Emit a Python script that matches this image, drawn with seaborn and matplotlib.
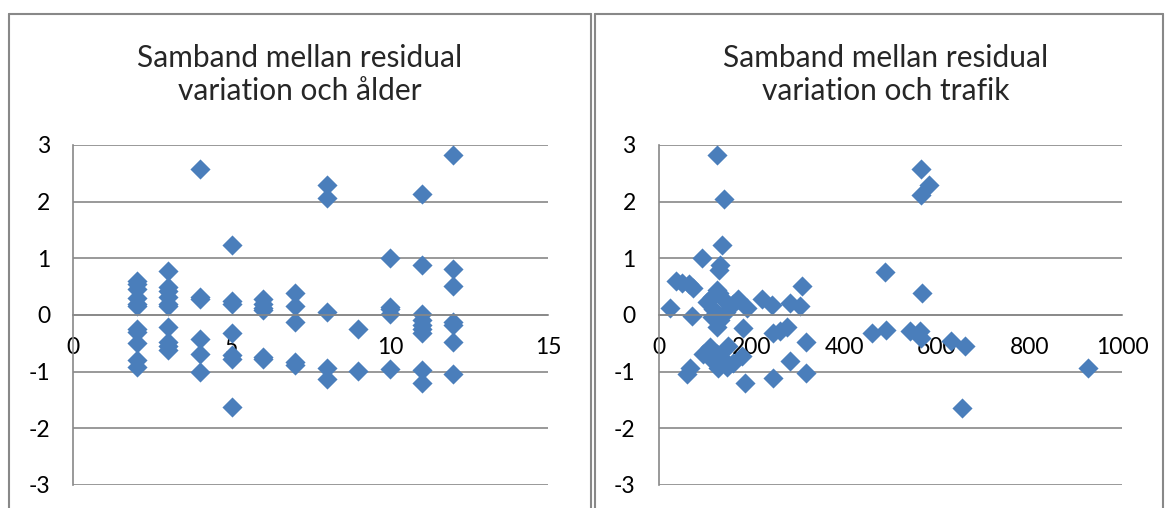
import matplotlib
matplotlib.use("Agg")
import matplotlib.pyplot as plt
import seaborn as sns
import pandas as pd
from matplotlib.lines import Line2D

# ---------------- data ----------------
age = ([2] * 11 + [3] * 10 + [4] * 6 + [5] * 7 + [6] * 6 + [7] * 5 +
       [8] * 5 + [9] * 2 + [10] * 5 + [11] * 9 + [12] * 7)
age_resid = [0.60, 0.55, 0.45, 0.30, 0.20, 0.15, -0.25, -0.30, -0.50, -0.80, -0.92,
             0.77, 0.50, 0.42, 0.32, 0.20, 0.15, -0.22, -0.48, -0.55, -0.62,
             2.57, 0.32, 0.29, -0.42, -0.68, -1.00,
             1.24, 0.24, 0.19, -0.31, -0.70, -0.77, -1.63,
             0.28, 0.20, 0.12, 0.08, -0.75, -0.78,
             0.38, 0.15, -0.12, -0.83, -0.88,
             2.29, 2.06, 0.06, -0.93, -1.13,
             -0.24, -0.98,
             1.00, 0.14, 0.10, 0.02, -0.95,
             2.14, 0.88, 0.02, -0.08, -0.17, -0.24, -0.31, -0.97, -1.20,
             2.82, 0.82, 0.51, -0.13, -0.17, -0.48, -1.05]

traffic = [126, 141, 137, 94, 132, 130,
           37, 50, 65, 75, 310, 25, 71,
           125, 115, 104, 140, 154, 172, 190, 222, 244, 283, 305,
           130, 118, 145, 160,
           115, 132, 125, 183, 247, 276, 262, 318,
           111, 96, 125, 111, 140, 147, 129, 179, 68, 62, 186, 247, 283, 318,
           150, 160,
           566, 584, 566, 489, 568, 460, 490, 542, 563, 566, 631, 661, 927, 654]
traffic_resid = [2.82, 2.05, 1.24, 1.00, 0.88, 0.80,
                 0.60, 0.57, 0.54, 0.48, 0.51, 0.13, -0.02,
                 0.44, 0.32, 0.23, 0.26, 0.15, 0.29, 0.12, 0.29, 0.18, 0.21, 0.15,
                 0.38, 0.10, 0.05, 0.20,
                 -0.03, -0.09, -0.21, -0.23, -0.32, -0.21, -0.29, -0.48,
                 -0.56, -0.68, -0.68, -0.76, -0.79, -0.91, -0.94, -0.73, -0.94, -1.05,
                 -1.20, -1.12, -0.82, -1.02,
                 -0.55, -0.85,
                 2.57, 2.30, 2.12, 0.76, 0.39, -0.32, -0.26, -0.28, -0.28, -0.40,
                 -0.46, -0.54, -0.93, -1.65]

titles = ["Samband mellan residual", "variation och ålder",
          "Samband mellan residual", "variation och trafik"]
y_ticks = [-3, -2, -1, 0, 1, 2, 3]
age_ticks = [0, 5, 10, 15]
traffic_ticks = [0, 200, 400, 600, 800, 1000]

# ---------------- style ----------------
sns.set_style("white")
plt.rcParams['font.family'] = ['Lato', 'DejaVu Sans']
plt.rcParams['axes.unicode_minus'] = False

W, H = 1168, 508
BLUE = "#4A7EBB"
GRAY = "#888888"

fig = plt.figure(figsize=(W / 100, H / 100), dpi=100)


def px_axes(x0, x1, y0, y1):
    return fig.add_axes([x0 / W, 1 - y1 / H, (x1 - x0) / W, (y1 - y0) / H])


def style(ax, xlim, xticks):
    ax.set_xlim(*xlim)
    ax.set_ylim(-3, 3)
    ax.set_xticks(xticks)
    ax.set_yticks(y_ticks)
    ax.set_xticklabels([str(t) for t in xticks])
    ax.set_yticklabels([str(t) for t in y_ticks])
    for s in ["top", "right"]:
        ax.spines[s].set_visible(False)
    ax.spines["bottom"].set_position(("data", 0))
    ax.spines["left"].set_position(("data", xlim[0]))
    for s in ["bottom", "left"]:
        ax.spines[s].set_color(GRAY)
        ax.spines[s].set_linewidth(1.2)
    ax.yaxis.grid(True, color=GRAY, lw=1.2)
    ax.xaxis.grid(False)
    ax.set_axisbelow(True)
    ax.tick_params(axis="both", direction="out", length=5.5, width=1.2,
                   color=GRAY, labelsize=16.5, labelcolor="black")
    ax.tick_params(axis="x", pad=10)
    ax.tick_params(axis="y", pad=11)
    ax.set_xlabel("")
    ax.set_ylabel("")
    ax.patch.set_alpha(0)


ax1 = px_axes(73.3, 548.3, 145, 485)
ax2 = px_axes(658.6, 1122.3, 145, 485)

df1 = pd.DataFrame({"x": age, "y": age_resid})
df2 = pd.DataFrame({"x": traffic, "y": traffic_resid})

sns.scatterplot(data=df1, x="x", y="y", ax=ax1, marker="D", color=BLUE,
                s=105, linewidth=0, clip_on=False)
sns.scatterplot(data=df2, x="x", y="y", ax=ax2, marker="D", color=BLUE,
                s=105, linewidth=0, clip_on=False)

style(ax1, (0, 15), age_ticks)
style(ax2, (0, 1000), traffic_ticks)

# chart borders
def vline(x, y0, y1):
    fig.add_artist(Line2D([x / W, x / W], [1 - y0 / H, 1 - y1 / H],
                          color=GRAY, lw=1.5))


def hline(x0, x1, y):
    fig.add_artist(Line2D([x0 / W, x1 / W], [1 - y / H, 1 - y / H],
                          color=GRAY, lw=1.5))


for (bx0, bx1) in [(9, 591), (595, 1163)]:
    vline(bx0, 14, 520)
    vline(bx1, 14, 520)
    hline(bx0, bx1, 14)

# titles
for cx, (l1, l2) in [(300, titles[0:2]), (886, titles[2:4])]:
    fig.text(cx / W, 1 - 67 / H, l1, ha="center", va="baseline", fontsize=21.5)
    fig.text(cx / W, 1 - 100 / H, l2, ha="center", va="baseline", fontsize=21.5)

fig.savefig("out.png", dpi=100)
